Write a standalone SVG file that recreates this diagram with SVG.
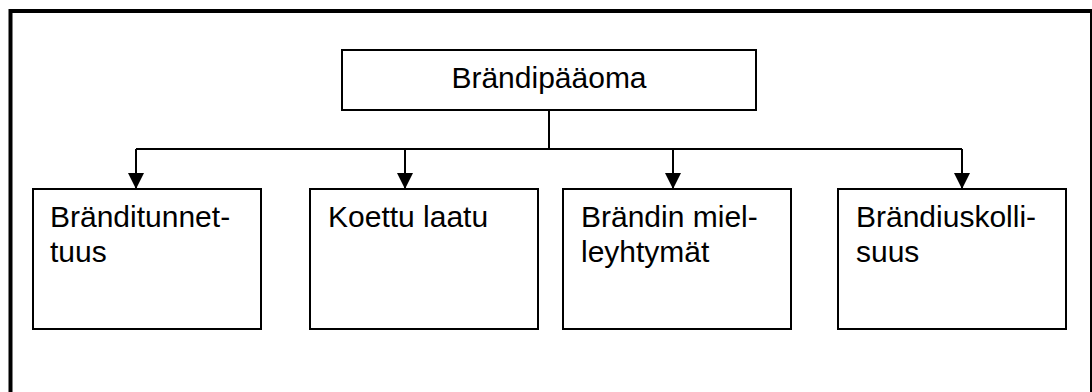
<svg xmlns="http://www.w3.org/2000/svg" width="1092" height="392" viewBox="0 0 1092 392">
  <defs>
    <style>
      .box { fill: #ffffff; stroke: #000000; stroke-width: 2; }
      .frame { fill: none; stroke: #000000; stroke-width: 4; }
      .wire { fill: none; stroke: #000000; stroke-width: 2; }
      .label { font-family: "Liberation Sans", Arial, sans-serif; font-size: 30px; fill: #000000; }
    </style>
    <marker id="arrow" viewBox="0 0 16 16" refX="16" refY="8" markerWidth="16" markerHeight="16" markerUnits="userSpaceOnUse" orient="auto">
      <path d="M0,0 L16,8 L0,16 Z" fill="#000000"/>
    </marker>
  </defs>

  <rect width="1092" height="392" fill="#ffffff"/>

  <!-- outer frame -->
  <rect class="frame" x="10.5" y="11" width="1081.5" height="400"/>

  <!-- connectors -->
  <g id="connectors">
    <line class="wire" x1="549" y1="110" x2="549" y2="149"/>
    <line class="wire" x1="136" y1="149" x2="962" y2="149"/>
    <line class="wire" x1="136" y1="149" x2="136" y2="189" marker-end="url(#arrow)"/>
    <line class="wire" x1="405" y1="149" x2="405" y2="189" marker-end="url(#arrow)"/>
    <line class="wire" x1="673" y1="149" x2="673" y2="189" marker-end="url(#arrow)"/>
    <line class="wire" x1="962" y1="149" x2="962" y2="189" marker-end="url(#arrow)"/>
  </g>

  <g id="brandipaaoma">
    <rect class="box" x="342" y="50" width="414" height="60"/>
    <text class="label" x="549" y="88" text-anchor="middle">Brändipääoma</text>
  </g>

  <g id="branditunnettuus">
    <rect class="box" x="33" y="189" width="228" height="140"/>
    <text class="label" x="50" y="227">Bränditunnet-</text>
    <text class="label" x="50" y="262">tuus</text>
  </g>

  <g id="koettu-laatu">
    <rect class="box" x="310" y="189" width="228" height="140"/>
    <text class="label" x="328" y="227">Koettu laatu</text>
  </g>

  <g id="brandin-mielleyhtymat">
    <rect class="box" x="563" y="189" width="228" height="140"/>
    <text class="label" x="581" y="227">Brändin miel-</text>
    <text class="label" x="581" y="262">leyhtymät</text>
  </g>

  <g id="brandiuskollisuus">
    <rect class="box" x="838" y="189" width="228" height="140"/>
    <text class="label" x="856" y="227">Brändiuskolli-</text>
    <text class="label" x="856" y="262">suus</text>
  </g>
</svg>
